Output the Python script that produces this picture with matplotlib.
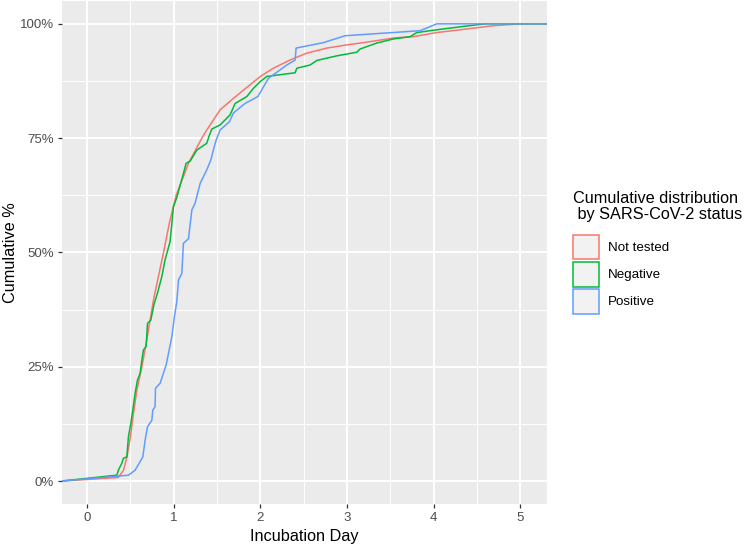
import matplotlib
matplotlib.use("Agg")
import matplotlib.pyplot as plt
from matplotlib.patches import Patch
from matplotlib.ticker import MultipleLocator, FuncFormatter

plt.rcParams['font.family'] = ['Liberation Sans', 'DejaVu Sans']

# incubation day / cumulative fraction
not_tested_day = [-0.31, 0.36, 0.42, 0.46, 0.50, 0.535, 0.574, 0.632, 0.689, 0.727, 0.77,
                  0.882, 0.95, 1.028, 1.17, 1.324, 1.382, 1.536, 1.689, 1.844, 2.0, 2.151,
                  2.344, 2.537, 2.768, 3.0, 3.23, 3.537, 3.768, 4.038, 4.307, 4.692, 5.0, 5.31]
not_tested_cum = [0.0, 0.008, 0.024, 0.053, 0.097, 0.148, 0.199, 0.25, 0.309, 0.352, 0.40,
                  0.50, 0.565, 0.625, 0.695, 0.75, 0.768, 0.812, 0.837, 0.861, 0.885, 0.903,
                  0.921, 0.936, 0.947, 0.954, 0.960, 0.969, 0.972, 0.981, 0.987, 0.996, 1.0, 1.0]

negative_day = [-0.31, 0.343, 0.361, 0.40, 0.419, 0.458, 0.477, 0.504, 0.527, 0.554, 0.581,
                0.612, 0.632, 0.65, 0.681, 0.697, 0.735, 0.77, 0.812, 0.862, 0.90, 0.958,
                0.997, 1.035, 1.112, 1.143, 1.19, 1.267, 1.382, 1.405, 1.44, 1.536, 1.651,
                1.709, 1.844, 1.92, 2.0, 2.075, 2.402, 2.421, 2.575, 2.652, 2.883, 3.114,
                3.152, 3.345, 3.537, 3.73, 3.807, 4.076, 4.5, 4.615, 5.31]
negative_cum = [0.0, 0.013, 0.024, 0.039, 0.05, 0.053, 0.097, 0.126, 0.155, 0.192, 0.221,
                0.236, 0.265, 0.287, 0.294, 0.345, 0.352, 0.385, 0.411, 0.447, 0.484, 0.524,
                0.60, 0.62, 0.673, 0.695, 0.70, 0.724, 0.739, 0.753, 0.77, 0.779, 0.801,
                0.826, 0.841, 0.859, 0.874, 0.885, 0.893, 0.903, 0.91, 0.92, 0.93, 0.938,
                0.945, 0.958, 0.967, 0.972, 0.981, 0.988, 0.998, 1.0, 1.0]

positive_day = [-0.31, 0.477, 0.554, 0.643, 0.67, 0.697, 0.747, 0.758, 0.785, 0.789, 0.843,
                0.881, 0.912, 0.939, 0.978, 1.008, 1.035, 1.055, 1.093, 1.112, 1.17, 1.182,
                1.209, 1.247, 1.305, 1.382, 1.428, 1.467, 1.49, 1.536, 1.643, 1.689, 1.824,
                1.971, 2.094, 2.306, 2.402, 2.413, 2.729, 2.979, 3.845, 4.038, 5.31]
positive_cum = [0.0, 0.013, 0.024, 0.053, 0.09, 0.119, 0.133, 0.155, 0.163, 0.203, 0.214,
                0.236, 0.254, 0.279, 0.316, 0.36, 0.392, 0.44, 0.454, 0.52, 0.53, 0.549,
                0.593, 0.608, 0.651, 0.681, 0.702, 0.731, 0.746, 0.768, 0.786, 0.805, 0.826,
                0.841, 0.881, 0.91, 0.921, 0.947, 0.959, 0.974, 0.985, 1.0, 1.0]

series = [("Not tested", not_tested_day, not_tested_cum, "#F8766D"),
          ("Negative", negative_day, negative_cum, "#00BA38"),
          ("Positive", positive_day, positive_cum, "#619CFF")]

fig = plt.figure(figsize=(7.5, 5.47), dpi=100)
ax = fig.add_axes([0.0827, 0.0786, 0.6466, 0.9196])
ax.set_facecolor("#EBEBEB")

for name, d, c, col in series:
    ax.plot(d, c, color=col, lw=1.1, label=name)

ax.set_xlim(-0.29, 5.31)
ax.set_ylim(-0.05, 1.05)
ax.xaxis.set_major_locator(MultipleLocator(1))
ax.xaxis.set_minor_locator(MultipleLocator(0.5))
ax.yaxis.set_major_locator(MultipleLocator(0.25))
ax.yaxis.set_minor_locator(MultipleLocator(0.125))
ax.yaxis.set_major_formatter(FuncFormatter(lambda v, p: f"{v*100:.0f}%"))

ax.grid(which="major", color="white", lw=1.4)
ax.grid(which="minor", color="white", lw=0.7)
ax.set_axisbelow(True)
for s in ax.spines.values():
    s.set_visible(False)
ax.tick_params(which="major", length=3, width=0.9, color="#333333",
               labelcolor="#4D4D4D", labelsize=9.5, pad=3)
ax.tick_params(which="minor", length=0)

ax.set_xlabel("Incubation Day", fontsize=11.7, labelpad=3)
ax.set_ylabel("Cumulative %", fontsize=11.7)
ax.yaxis.set_label_coords(-0.09, 0.5)

handles = [Patch(facecolor="#F2F2F2", edgecolor=col, lw=1.1, label=name)
           for name, d, c, col in series]
leg = fig.legend(handles=handles, loc="upper left", bbox_to_anchor=(0.764, 0.65),
                 title="Cumulative distribution\n by SARS-CoV-2 status",
                 frameon=False, fontsize=9.6, title_fontsize=11.7,
                 handlelength=1.95, handleheight=2.5, handletextpad=0.7,
                 labelspacing=0.16, borderaxespad=0, borderpad=0)
leg.get_title().set_linespacing(1.05)
leg._legend_box.align = "left"
leg._legend_box.sep = 9

fig.savefig("out.png", dpi=100)
